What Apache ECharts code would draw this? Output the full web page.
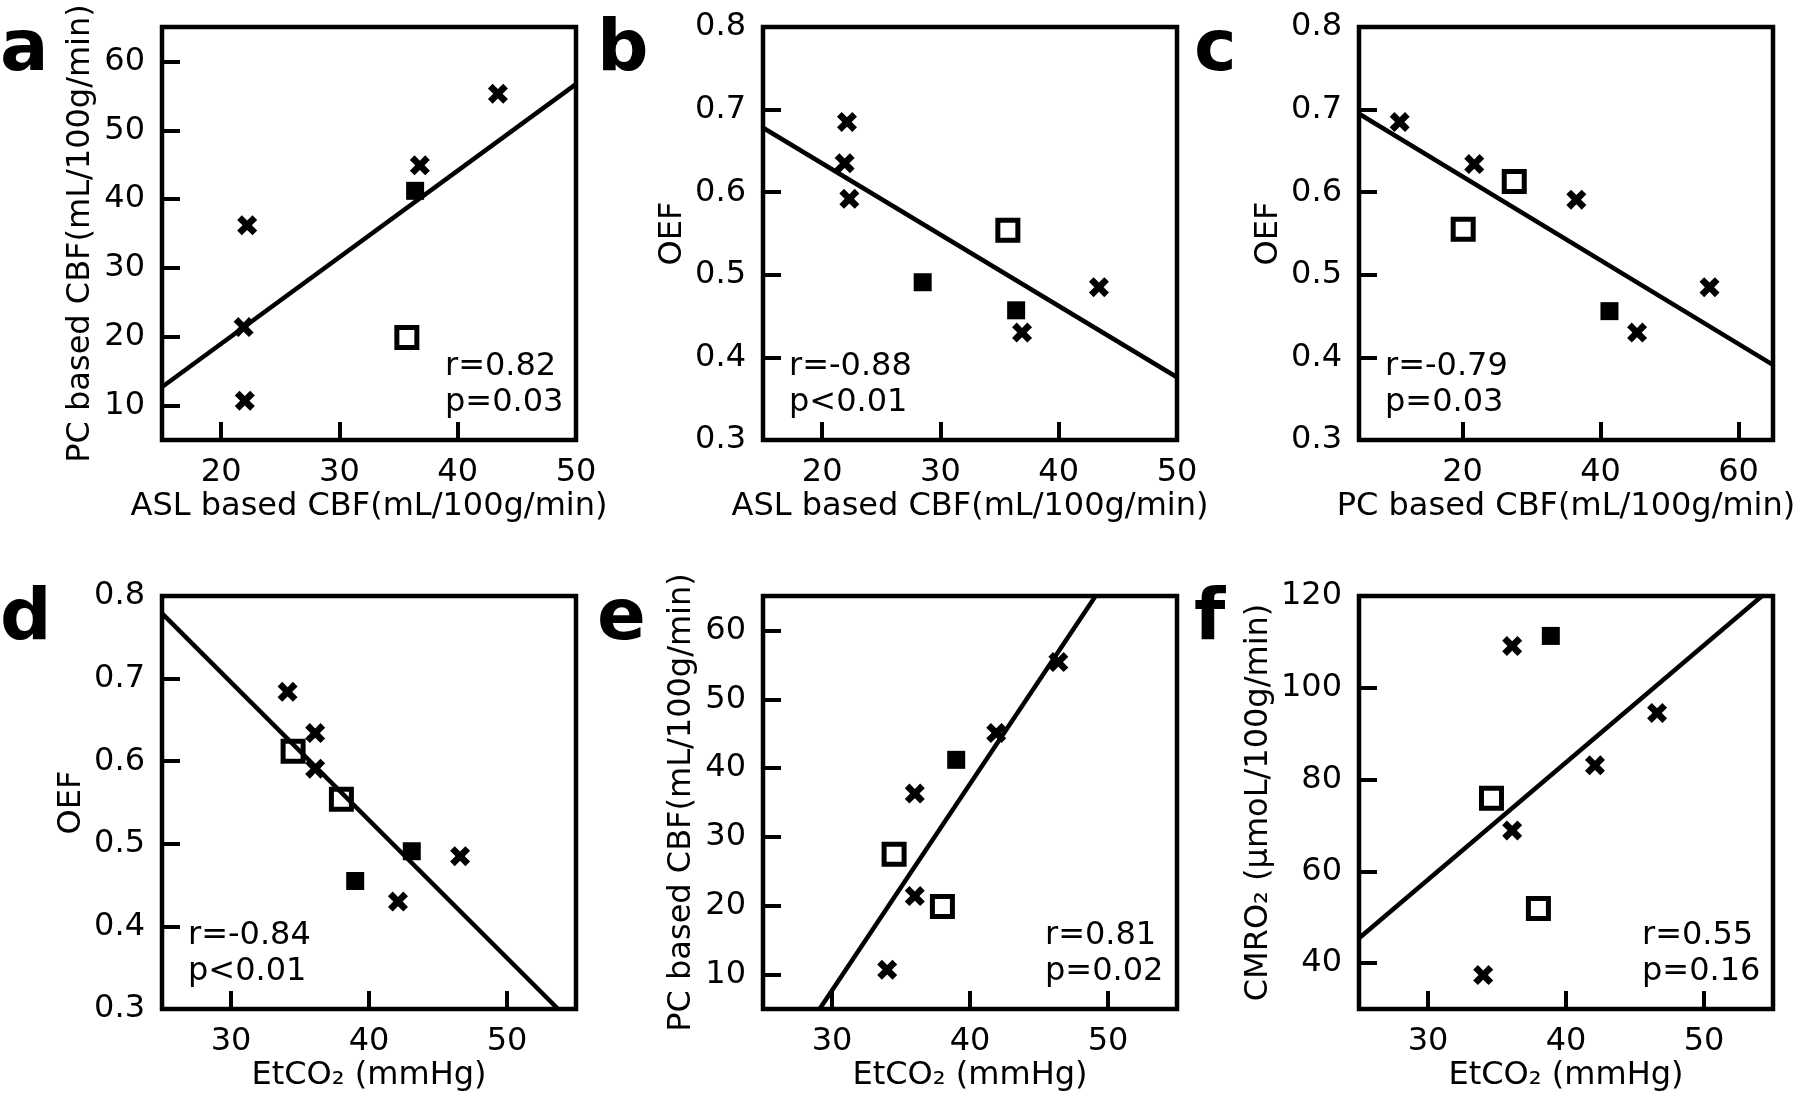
<!DOCTYPE html>
<html>
<head>
<meta charset="utf-8">
<script src="https://cdn.jsdelivr.net/npm/echarts@6/dist/echarts.min.js"></script>
<style>
  html, body { margin: 0; padding: 0; background: #fff; }
  #chart { width: 1800px; height: 1098px; }
</style>
</head>
<body>
<div id="chart"></div>
<script>
/////////  DATA ////////////////
// a: PC based CBF vs ASL based CBF
const aCross = [[22.2, 36.2], [21.9, 21.4], [22.0, 10.7], [36.8, 44.9], [43.4, 55.3]];
const aFilled = [[36.4, 41.2]];
const aOpen = [[35.7, 19.9]];
const aFit = [[15, 12.7], [50, 56.7]];

// b: OEF vs ASL based CBF
const bCross = [[22.1, 0.685], [21.9, 0.635], [22.3, 0.592], [43.4, 0.485], [36.9, 0.430]];
const bFilled = [[28.5, 0.491], [36.4, 0.457]];
const bOpen = [[35.7, 0.554]];
const bFit = [[15, 0.678], [50, 0.376]];

// c: OEF vs PC based CBF
const cCross = [[10.9, 0.685], [21.7, 0.634], [36.5, 0.591], [55.8, 0.485], [45.3, 0.430]];
const cFilled = [[41.3, 0.456]];
const cOpen = [[27.5, 0.613], [20.1, 0.555]];
const cFit = [[5, 0.695], [65, 0.391]];

// d: OEF vs EtCO2
const dCross = [[34.1, 0.684], [36.1, 0.634], [36.1, 0.591], [46.6, 0.485], [42.1, 0.430]];
const dFilled = [[43.1, 0.491], [39.0, 0.455]];
const dOpen = [[34.5, 0.612], [38.0, 0.554]];
const dFit = [[25, 0.779], [53.7, 0.3]];

// e: PC based CBF vs EtCO2
const eCross = [[34.0, 10.7], [36.0, 21.4], [36.0, 36.3], [41.9, 45.1], [46.4, 55.4]];
const eFilled = [[39.0, 41.2]];
const eOpen = [[34.5, 27.5], [38.0, 19.9]];
const eFit = [[29.1, 5], [49.1, 65]];

// f: CMRO2 vs EtCO2
const fCross = [[34.0, 37.4], [36.1, 68.9], [36.1, 109.1], [42.1, 83.1], [46.6, 94.5]];
const fFilled = [[38.9, 111.3]];
const fOpen = [[34.6, 75.9], [38.0, 51.9]];
const fFit = [[25, 45.4], [54.2, 120]];

// axes
const xRanges = [[15, 50], [15, 50], [5, 65], [25, 55], [25, 55], [25, 55]];
const yRanges = [[5, 65], [0.3, 0.8], [0.3, 0.8], [0.3, 0.8], [5, 65], [30, 120]];
const xTicks = [[20, 30, 40, 50], [20, 30, 40, 50], [20, 40, 60], [30, 40, 50], [30, 40, 50], [30, 40, 50]];
const cbfTicks = [10, 20, 30, 40, 50, 60];
const oefTicks = [0.3, 0.4, 0.5, 0.6, 0.7, 0.8];
const cmroTicks = [40, 60, 80, 100, 120];
const yTicks = [cbfTicks, oefTicks, oefTicks, oefTicks, cbfTicks, cmroTicks];

const xNames = ['ASL based CBF(mL/100g/min)', 'ASL based CBF(mL/100g/min)', 'PC based CBF(mL/100g/min)',
  'EtCO₂ (mmHg)', 'EtCO₂ (mmHg)', 'EtCO₂ (mmHg)'];
const yNames = ['PC based CBF(mL/100g/min)', 'OEF', 'OEF', 'OEF', 'PC based CBF(mL/100g/min)', 'CMRO₂ (μmoL/100g/min)'];
const statR = ['r=0.82', 'r=-0.88', 'r=-0.79', 'r=-0.84', 'r=0.81', 'r=0.55'];
const statP = ['p=0.03', 'p<0.01', 'p=0.03', 'p<0.01', 'p=0.02', 'p=0.16'];
const letters = ['a', 'b', 'c', 'd', 'e', 'f'];

const crossData = [aCross, bCross, cCross, dCross, eCross, fCross];
const filledData = [aFilled, bFilled, cFilled, dFilled, eFilled, fFilled];
const openData = [aOpen, bOpen, cOpen, dOpen, eOpen, fOpen];
const fitData = [aFit, bFit, cFit, dFit, eFit, fFit];

/////////  LAYOUT ////////////////
const colLeft = [162, 763, 1359];
const rowTop = [27, 596];
const boxW = 414;
const boxH = 413;
const yNameGap = [65, 74, 74, 74, 65, 84];
const statLeft = [283, 26, 26, 26, 282, 283];
const letterX = [0, 597, 1194];
const FONT = 'DejaVu Sans';
const FS = 32;
// fat "X" marker, like matplotlib's filled X
const crossPath = 'path://M0,1.4L1.4,0L3,1.6L4.6,0L6,1.4L4.4,3L6,4.6L4.6,6L3,4.4L1.4,6L0,4.6L1.6,3Z';

const grid = [], xAxis = [], yAxis = [], series = [], graphic = [];

for (let i = 0; i < 6; i++) {
  const left = colLeft[i % 3];
  const top = rowTop[Math.floor(i / 3)];
  grid.push({
    left: left, top: top, width: boxW, height: boxH,
    show: true, borderColor: '#000', borderWidth: 4.5, backgroundColor: 'transparent'
  });
  const fmt = v => (yRanges[i][1] < 1 ? v.toFixed(1) : String(v));
  xAxis.push({
    gridIndex: i, type: 'value', min: xRanges[i][0], max: xRanges[i][1],
    name: xNames[i], nameLocation: 'middle', nameGap: 51,
    nameTextStyle: { fontFamily: FONT, fontSize: FS, color: '#000' },
    axisLine: { show: false },
    splitLine: { show: false },
    axisTick: { show: true, inside: true, length: 18, customValues: xTicks[i], lineStyle: { color: '#000', width: 4 } },
    axisLabel: { customValues: xTicks[i], fontFamily: FONT, fontSize: FS, color: '#000', margin: 17 }
  });
  yAxis.push({
    gridIndex: i, type: 'value', min: yRanges[i][0], max: yRanges[i][1],
    name: yNames[i], nameLocation: 'middle', nameGap: yNameGap[i],
    nameTextStyle: { fontFamily: FONT, fontSize: FS, color: '#000' },
    axisLine: { show: false },
    splitLine: { show: false },
    axisTick: { show: true, inside: true, length: 18, customValues: yTicks[i], lineStyle: { color: '#000', width: 4 } },
    axisLabel: { customValues: yTicks[i], fontFamily: FONT, fontSize: FS, color: '#000', margin: 17, formatter: fmt }
  });

  series.push({
    type: 'line', xAxisIndex: i, yAxisIndex: i, data: fitData[i],
    symbol: 'none', lineStyle: { color: '#000', width: 4.5 }, z: 1, silent: true
  });
  series.push({
    type: 'scatter', xAxisIndex: i, yAxisIndex: i, data: crossData[i],
    symbol: crossPath, symbolSize: 20, itemStyle: { color: '#000', opacity: 1 }, z: 3
  });
  series.push({
    type: 'scatter', xAxisIndex: i, yAxisIndex: i, data: filledData[i],
    symbol: 'rect', symbolSize: 18, itemStyle: { color: '#000', opacity: 1 }, z: 3
  });
  series.push({
    type: 'scatter', xAxisIndex: i, yAxisIndex: i, data: openData[i],
    symbol: 'rect', symbolSize: 20,
    itemStyle: { color: 'rgba(0,0,0,0)', borderColor: '#000', borderWidth: 5, opacity: 1 }, z: 3
  });

  graphic.push({
    type: 'text', left: left + statLeft[i], top: top + 322,
    style: { text: statR[i] + '\n' + statP[i], font: FS + 'px "DejaVu Sans"', fill: '#000', lineHeight: 36 }
  });
  graphic.push({
    type: 'text', x: letterX[i % 3], y: 51 + (top - 27),
    style: { text: letters[i], font: 'bold 72px "DejaVu Sans"', fill: '#000', verticalAlign: 'middle' }
  });
}

const chart = echarts.init(document.getElementById('chart'));
chart.setOption({
  animation: false,
  backgroundColor: '#fff',
  grid: grid,
  xAxis: xAxis,
  yAxis: yAxis,
  series: series,
  graphic: graphic
});
</script>
</body>
</html>
